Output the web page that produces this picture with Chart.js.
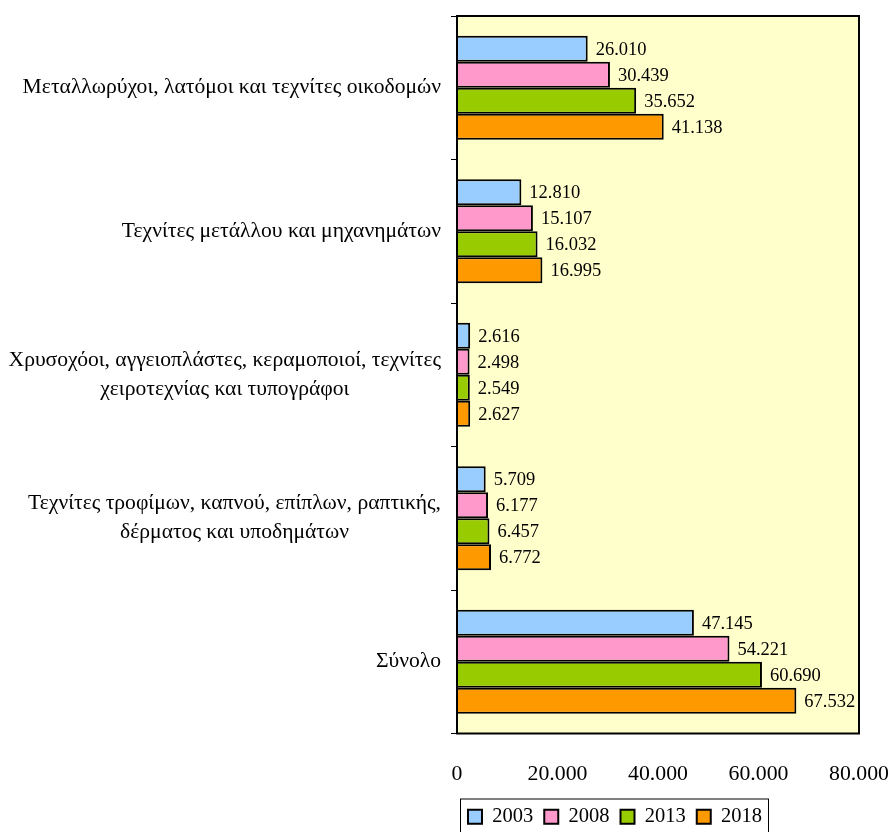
<!DOCTYPE html>
<html>
<head>
<meta charset="utf-8">
<script src="https://cdn.jsdelivr.net/npm/chart.js@4.4.1/dist/chart.umd.min.js"></script>
<style>
  html, body { margin: 0; padding: 0; background: #fff; overflow: hidden; }
  #wrap { width: 890px; height: 837px; }
</style>
</head>
<body>
<div id="wrap"><canvas id="chart"></canvas></div>
<script>
// categories, top to bottom
const categories = [
  ["Μεταλλωρύχοι, λατόμοι και τεχνίτες οικοδομών"],
  ["Τεχνίτες μετάλλου και μηχανημάτων"],
  ["Χρυσοχόοι, αγγειοπλάστες, κεραμοποιοί, τεχνίτες", "χειροτεχνίας και τυπογράφοι"],
  ["Τεχνίτες τροφίμων, καπνού, επίπλων, ραπτικής,", "δέρματος και υποδημάτων"],
  ["Σύνολο"]
];
const years = ["2003", "2008", "2013", "2018"];
const values2003 = [26010, 12810, 2616, 5709, 47145];
const values2008 = [30439, 15107, 2498, 6177, 54221];
const values2013 = [35652, 16032, 2549, 6457, 60690];
const values2018 = [41138, 16995, 2627, 6772, 67532];
const xTicks = [0, 20000, 40000, 60000, 80000];

const colors = ["#99CCFF", "#FF99CC", "#99CC00", "#FF9900"];
const FONT = "'Liberation Serif', 'Times New Roman', serif";

// 26010 -> "26.010"
const fmt = (v) => String(v).replace(/\B(?=(\d{3})+(?!\d))/g, ".");

// background + frame of the plot area
const framePlugin = {
  id: "frame",
  beforeDraw(chart) {
    const { ctx, chartArea: a } = chart;
    ctx.save();
    ctx.fillStyle = "#FFFFCC";
    ctx.fillRect(a.left, a.top, a.right - a.left, a.bottom - a.top);
    ctx.restore();
  },
  afterDatasetsDraw(chart) {
    const { ctx, chartArea: a } = chart;
    ctx.save();
    ctx.strokeStyle = "#000";
    ctx.lineWidth = 2;
    ctx.strokeRect(a.left, a.top, a.right - a.left, a.bottom - a.top);
    ctx.restore();
  }
};

// category labels: block right aligned, lines centred
const catLabelPlugin = {
  id: "catLabels",
  afterDraw(chart) {
    const { ctx } = chart;
    const y = chart.scales.y;
    ctx.save();
    ctx.font = "21.6px " + FONT;
    ctx.fillStyle = "#000";
    ctx.textAlign = "center";
    ctx.textBaseline = "middle";
    const lh = 29;
    categories.forEach((lines, i) => {
      const w = Math.max(...lines.map((l) => ctx.measureText(l).width));
      const cx = chart.chartArea.left - 16 - w / 2;
      const cy = y.getPixelForValue(i);
      lines.forEach((l, j) => {
        ctx.fillText(l, cx, cy + (j - (lines.length - 1) / 2) * lh);
      });
    });
    ctx.restore();
  }
};

// value labels at the end of each bar
const valueLabelPlugin = {
  id: "valueLabels",
  afterDatasetsDraw(chart) {
    const { ctx } = chart;
    ctx.save();
    ctx.font = "18.5px " + FONT;
    ctx.fillStyle = "#000";
    ctx.textAlign = "left";
    ctx.textBaseline = "middle";
    chart.data.datasets.forEach((ds, di) => {
      chart.getDatasetMeta(di).data.forEach((bar, i) => {
        ctx.fillText(fmt(ds.data[i]), bar.x + 8, bar.y + 1);
      });
    });
    ctx.restore();
  }
};

// box around the legend
const legendBoxPlugin = {
  id: "legendBox",
  afterDraw(chart) {
    const boxes = chart.legend.legendHitBoxes;
    if (!boxes || !boxes.length) return;
    const { ctx } = chart;
    const first = boxes[0];
    const last = boxes[boxes.length - 1];
    ctx.save();
    ctx.strokeStyle = "#000";
    ctx.lineWidth = 1;
    ctx.strokeRect(first.left - 7.5, first.top - 7.5, last.left + last.width - first.left + 14, first.height + 15);
    ctx.restore();
  }
};

const chart = new Chart(document.getElementById("chart"), {
  type: "bar",
  data: {
    labels: categories.map((c) => c.join(" ")),
    datasets: [values2003, values2008, values2013, values2018].map((vals, i) => ({
      label: years[i],
      data: vals,
      backgroundColor: colors[i],
      borderColor: "#000",
      borderWidth: 2,
      borderSkipped: "left",
      barPercentage: 1.0,
      categoryPercentage: 0.725
    }))
  },
  options: {
    indexAxis: "y",
    responsive: true,
    maintainAspectRatio: false,
    animation: false,
    layout: { padding: { top: 16, right: 0, left: 0, bottom: 0 } },
    plugins: {
      legend: {
        position: "bottom",
        align: "start",
        fullSize: false,
        labels: {
          font: { family: FONT, size: 20.5 },
          color: "#000",
          boxWidth: 14,
          boxHeight: 14,
          padding: 11,
          generateLabels(chart) {
            return chart.data.datasets.map((ds, i) => ({
              text: ds.label,
              fillStyle: ds.backgroundColor,
              strokeStyle: "#000",
              lineWidth: 2,
              datasetIndex: i
            }));
          }
        }
      },
      tooltip: { enabled: false }
    },
    scales: {
      x: {
        min: 0,
        max: 80000,
        afterBuildTicks(scale) {
          scale.ticks = xTicks.map((v) => ({ value: v }));
        },
        grid: { display: false },
        border: { display: false },
        ticks: {
          font: { family: FONT, size: 21.8 },
          color: "#000",
          padding: 20,
          maxRotation: 0,
          callback: (v) => fmt(v)
        },
        afterFit(scale) {
          scale.height = 62;
          scale.paddingRight = 31;
        }
      },
      y: {
        grid: {
          offset: true,
          drawOnChartArea: false,
          drawTicks: true,
          tickLength: 6,
          color: "#000",
          lineWidth: 1
        },
        border: { display: false },
        ticks: { display: false },
        afterFit(scale) { scale.width = 457; }
      }
    }
  },
  plugins: [framePlugin, catLabelPlugin, valueLabelPlugin, legendBoxPlugin]
});
</script>
</body>
</html>
